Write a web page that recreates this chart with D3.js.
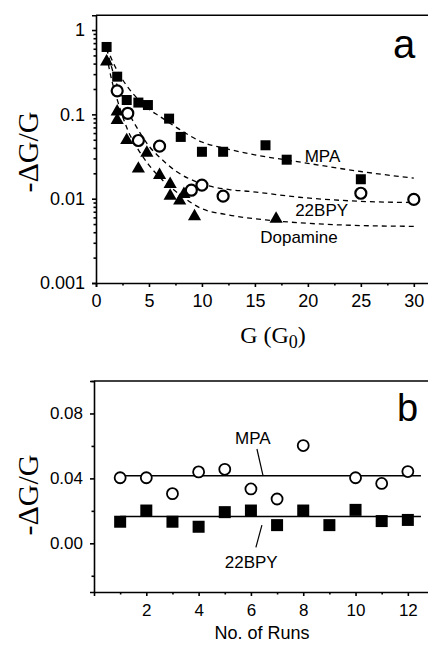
<!DOCTYPE html>
<html>
<head>
<meta charset="utf-8">
<script src="https://cdn.jsdelivr.net/npm/d3@7"></script>
<style>
	body { margin: 0; background: #fff; }
	svg { display: block; }
	.axis path, .axis line { stroke: #000; stroke-width: 1.6; }
	.axis text { font-family: "Liberation Sans", Arial, sans-serif; fill: #000; }
	.fit { fill: none; stroke: #000; stroke-width: 1.3; stroke-dasharray: 5,4; }
	.note { font-family: "Liberation Sans", Arial, sans-serif; font-size: 17px; fill: #000; }
	.ylab { font-family: "Liberation Serif", "Times New Roman", serif; font-size: 30px; fill: #000; }
</style>
</head>
<body>
<svg id="chart" width="428" height="645"></svg>
<script>
// --- PANEL A DATA: -dG/G vs G (G0) --- //
var mpaG = [1, 2, 2.9, 4, 4.9, 6.9, 8, 10, 12, 16, 18, 25],
	mpaDG = [0.63, 0.28, 0.148, 0.138, 0.129, 0.089, 0.054, 0.036, 0.036, 0.043, 0.029, 0.017],
	bpyG = [2, 3, 4, 6, 9, 10, 12, 25, 30],
	bpyDG = [0.19, 0.103, 0.049, 0.042, 0.0126, 0.0145, 0.0107, 0.0116, 0.0098],
	dopG = [1, 2, 2, 2.9, 4, 4.8, 6, 7, 7, 7.9, 8.3, 9.3, 17],
	dopDG = [0.41, 0.105, 0.083, 0.048, 0.022, 0.034, 0.0185, 0.0145, 0.0105, 0.0092, 0.011, 0.006, 0.0056];

// dashed fit curves
var mpaFitG = [1, 2, 3, 4, 5, 6, 8, 10, 12, 14.5, 19, 25, 30],
	mpaFitDG = [0.62, 0.33, 0.21, 0.15, 0.115, 0.095, 0.065, 0.047, 0.04, 0.034, 0.0275, 0.021, 0.0175],
	bpyFitG = [1, 2, 3, 4, 5, 6, 7.6, 9.8, 12.6, 14.5, 19.2, 25, 30],
	bpyFitDG = [0.6, 0.22, 0.11, 0.065, 0.042, 0.031, 0.021, 0.0153, 0.0128, 0.0122, 0.0104, 0.0093, 0.009],
	dopFitG = [1, 1.5, 2, 3, 4, 5, 6, 8, 9.8, 12.6, 16, 20, 25, 30],
	dopFitDG = [0.5, 0.25, 0.15, 0.065, 0.038, 0.025, 0.018, 0.011, 0.0078, 0.0064, 0.0056, 0.0051, 0.0048, 0.0047];

var gTicks = [0, 5, 10, 15, 20, 25, 30],
	gMinor = [2.5, 7.5, 12.5, 17.5, 22.5, 27.5],
	dgTicks = [0.001, 0.01, 0.1, 1];

// --- PANEL B DATA: -dG/G vs run number --- //
var mpaRun = [1, 2, 3, 4, 5, 6, 7, 8, 10, 11, 12],
	mpaRunDG = [0.0404, 0.0404, 0.0306, 0.044, 0.0456, 0.0335, 0.0273, 0.0602, 0.0404, 0.0369, 0.0442],
	bpyRun = [1, 2, 3, 4, 5, 6, 7, 8, 9, 10, 11, 12],
	bpyRunDG = [0.0133, 0.0202, 0.0133, 0.0102, 0.0192, 0.0202, 0.0112, 0.0202, 0.0112, 0.0206, 0.0137, 0.0144],
	mpaMean = 0.0416,
	bpyMean = 0.0165,
	runLineX = [1, 12.5];

var runTicks = [2, 4, 6, 8, 10, 12],
	runMinor = [1, 3, 5, 7, 9, 11, 13],
	runDgTicks = [0.00, 0.04, 0.08],
	runDgMinor = [-0.02, 0.02, 0.06, 0.1];

var svg = d3.select("#chart");

// --- PANEL A --- //
var xA = d3.scaleLinear().domain([0, 32]).range([96, 435]),
	yA = d3.scaleLog().domain([0.001, 1.5]).range([283, 15.2]);

var logMinor = [];
[0.001, 0.01, 0.1, 1].forEach(function(d) {
	for (var k = 2; k < 10; k++) if (d * k < 1.5) logMinor.push(d * k);
});

var panelA = svg.append("g");

panelA.append("g").attr("class", "axis")
	.attr("transform", "translate(96,0)")
	.call(d3.axisLeft(yA).tickValues(dgTicks).tickSize(4).tickPadding(7)
		.tickFormat(function(d) { return d === 1 ? "1" : String(d); }))
	.call(function(g) { g.selectAll("text").style("font-size", "18px"); });

panelA.append("g").attr("class", "axis")
	.attr("transform", "translate(96,0)")
	.call(d3.axisLeft(yA).tickValues(logMinor).tickSize(2.5).tickFormat(""))
	.call(function(g) { g.select(".domain").remove(); });

panelA.append("g").attr("class", "axis")
	.attr("transform", "translate(0,283)")
	.call(d3.axisBottom(xA).tickValues(gTicks).tickSize(4).tickPadding(7))
	.call(function(g) { g.selectAll("text").style("font-size", "18px"); });

panelA.append("g").attr("class", "axis")
	.attr("transform", "translate(0,283)")
	.call(d3.axisBottom(xA).tickValues(gMinor).tickSize(2.5).tickFormat(""))
	.call(function(g) { g.select(".domain").remove(); });

// top frame
panelA.append("line")
	.attr("x1", 96).attr("x2", 428).attr("y1", 15.2).attr("y2", 15.2)
	.attr("stroke", "#000").attr("stroke-width", 1.6);

// fit curves
var fitLine = d3.line()
	.x(function(d) { return xA(d[0]); })
	.y(function(d) { return yA(d[1]); })
	.curve(d3.curveMonotoneX);

[[mpaFitG, mpaFitDG], [bpyFitG, bpyFitDG], [dopFitG, dopFitDG]].forEach(function(s) {
	panelA.append("path")
		.attr("class", "fit")
		.attr("d", fitLine(d3.zip(s[0], s[1])));
});

// markers
panelA.selectAll(".sq").data(d3.zip(mpaG, mpaDG)).enter().append("rect")
	.attr("class", "sq")
	.attr("x", function(d) { return xA(d[0]) - 5; })
	.attr("y", function(d) { return yA(d[1]) - 5; })
	.attr("width", 10).attr("height", 10)
	.attr("fill", "#000");

panelA.selectAll(".circ").data(d3.zip(bpyG, bpyDG)).enter().append("circle")
	.attr("class", "circ")
	.attr("cx", function(d) { return xA(d[0]); })
	.attr("cy", function(d) { return yA(d[1]); })
	.attr("r", 5.5)
	.attr("fill", "#fff").attr("stroke", "#000").attr("stroke-width", 2.2);

var tri = d3.symbol().type(d3.symbolTriangle).size(75);
panelA.selectAll(".tri").data(d3.zip(dopG, dopDG)).enter().append("path")
	.attr("class", "tri")
	.attr("transform", function(d) { return "translate(" + xA(d[0]) + "," + (yA(d[1]) - 1) + ")"; })
	.attr("d", tri)
	.attr("fill", "#000");

// labels
panelA.append("text").attr("class", "note").attr("x", xA(19.7)).attr("y", yA(0.0272)).text("MPA");
panelA.append("text").attr("class", "note").attr("x", xA(18.8)).attr("y", yA(0.0062)).text("22BPY");
panelA.append("text").attr("class", "note").attr("x", xA(15.5)).attr("y", yA(0.003)).text("Dopamine");

panelA.append("text")
	.attr("x", 393).attr("y", 58)
	.style("font-family", "Liberation Sans, Arial, sans-serif").style("font-size", "40px")
	.text("a");

panelA.append("text").attr("class", "ylab")
	.attr("transform", "translate(38,152) rotate(-90)")
	.attr("text-anchor", "middle")
	.text("-ΔG/G");

var gLab = panelA.append("text")
	.attr("x", 273).attr("y", 343)
	.attr("text-anchor", "middle")
	.style("font-family", "Liberation Serif, 'Times New Roman', serif").style("font-size", "24px");
gLab.append("tspan").text("G (G");
gLab.append("tspan").attr("dy", 5).style("font-size", "18px").text("0");
gLab.append("tspan").attr("dy", -5).text(")");

// --- PANEL B --- //
var xB = d3.scaleLinear().domain([0, 13]).range([94, 434]),
	yB = d3.scaleLinear().domain([-0.03, 0.1]).range([592, 381]);

var panelB = svg.append("g");

panelB.append("g").attr("class", "axis")
	.attr("transform", "translate(94,0)")
	.call(d3.axisLeft(yB).tickValues(runDgTicks).tickSize(4).tickPadding(7).tickFormat(d3.format(".2f")))
	.call(function(g) { g.selectAll("text").style("font-size", "17px"); });

panelB.append("g").attr("class", "axis")
	.attr("transform", "translate(94,0)")
	.call(d3.axisLeft(yB).tickValues(runDgMinor).tickSize(2.5).tickFormat(""))
	.call(function(g) { g.select(".domain").remove(); });

panelB.append("g").attr("class", "axis")
	.attr("transform", "translate(0,592)")
	.call(d3.axisBottom(xB).tickValues(runTicks).tickSize(4).tickPadding(8))
	.call(function(g) { g.selectAll("text").style("font-size", "17px"); });

panelB.append("g").attr("class", "axis")
	.attr("transform", "translate(0,592)")
	.call(d3.axisBottom(xB).tickValues(runMinor).tickSize(2.5).tickFormat(""))
	.call(function(g) { g.select(".domain").remove(); });

panelB.append("line")
	.attr("x1", 94).attr("x2", 428).attr("y1", 381).attr("y2", 381)
	.attr("stroke", "#000").attr("stroke-width", 1.6);

// mean lines
[mpaMean, bpyMean].forEach(function(m) {
	panelB.append("line")
		.attr("x1", xB(runLineX[0])).attr("x2", xB(runLineX[1]))
		.attr("y1", yB(m)).attr("y2", yB(m))
		.attr("stroke", "#000").attr("stroke-width", 1.6);
});

panelB.selectAll(".sq").data(d3.zip(bpyRun, bpyRunDG)).enter().append("rect")
	.attr("class", "sq")
	.attr("x", function(d) { return xB(d[0]) - 6; })
	.attr("y", function(d) { return yB(d[1]) - 6; })
	.attr("width", 12).attr("height", 12)
	.attr("fill", "#000");

panelB.selectAll(".circ").data(d3.zip(mpaRun, mpaRunDG)).enter().append("circle")
	.attr("class", "circ")
	.attr("cx", function(d) { return xB(d[0]); })
	.attr("cy", function(d) { return yB(d[1]); })
	.attr("r", 5.5)
	.attr("fill", "#fff").attr("stroke", "#000").attr("stroke-width", 1.8);

// leaders and labels
panelB.append("line")
	.attr("x1", xB(6.23)).attr("y1", yB(0.0581)).attr("x2", xB(6.46)).attr("y2", yB(0.0419))
	.attr("stroke", "#000").attr("stroke-width", 1.2);
panelB.append("line")
	.attr("x1", xB(6.42)).attr("y1", yB(0.0112)).attr("x2", xB(6.19)).attr("y2", yB(-0.0025))
	.attr("stroke", "#000").attr("stroke-width", 1.2);
panelB.append("text").attr("class", "note").attr("x", xB(5.39)).attr("y", yB(0.061)).text("MPA");
panelB.append("text").attr("class", "note").attr("x", xB(5.0)).attr("y", yB(-0.015)).text("22BPY");

panelB.append("text")
	.attr("x", 397).attr("y", 421)
	.style("font-family", "Liberation Sans, Arial, sans-serif").style("font-size", "38px")
	.text("b");

panelB.append("text").attr("class", "ylab")
	.attr("transform", "translate(38,495) rotate(-90)")
	.attr("text-anchor", "middle")
	.text("-ΔG/G");

panelB.append("text")
	.attr("x", 262).attr("y", 639)
	.attr("text-anchor", "middle")
	.style("font-family", "Liberation Sans, Arial, sans-serif").style("font-size", "18px")
	.text("No. of Runs");
</script>
</body>
</html>
